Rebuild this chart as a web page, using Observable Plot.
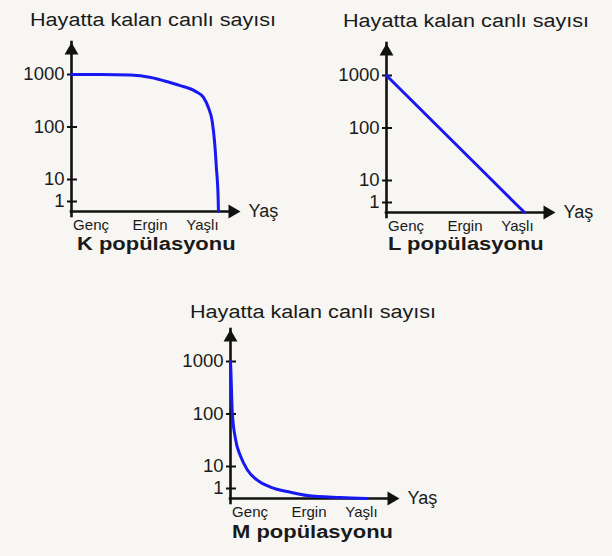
<!DOCTYPE html>
<html>
<head>
<meta charset="utf-8">
<script src="https://cdn.jsdelivr.net/npm/d3@7"></script>
<script src="https://cdn.jsdelivr.net/npm/@observablehq/plot@0.6"></script>
<style>
  html, body { margin: 0; padding: 0; }
  body { width: 612px; height: 556px; background: #f7f6f2; position: relative; overflow: hidden;
         font-family: "Liberation Sans", Arial, sans-serif; color: #1a1a1a; }
  .panel { position: absolute; }
  .txt { position: absolute; white-space: nowrap; font-size: 18px; line-height: 18px; transform-origin: 0 0; }
  .title { transform: scaleX(1.2); }
  .caption { font-weight: bold; transform: scaleX(1.22); }
</style>
</head>
<body>
<script>
// ---- data ----
const yAxisTitle = "Hayatta kalan canlı sayısı";
const xAxisTitle = "Yaş";
const ageLabels = ["Genç", "Ergin", "Yaşlı"];
const ageTickPos = [13.3, 53.4, 89.1];
const countTicks = [1, 10, 100, 1000];
const countLevels = [0, 1, 10, 100, 1000, 10000];  // 10000 = arrow tip of the y axis
const ageMax = 115;                                 // arrow tip of the x axis

const panelNames = ["K popülasyonu", "L popülasyonu", "M popülasyonu"];

const kAge   = [0, 20, 40, 54, 67, 74, 84.4, 89.8, 93.2, 95.7, 97.3, 98.6, 99.8, 100];
const kCount = [1000, 1000, 990, 948, 862, 810, 711, 607, 429, 204, 76, 30, 2, 0];

const lAge   = [0, 36, 72, 87, 94];
const lCount = [1000, 100, 10, 1, 0];

const mAge   = [0, 0.3, 1.2, 3.4, 6.8, 11.4, 18.2, 27.2, 40.8, 52.2, 74.8, 93];
const mCount = [1000, 813, 134, 57, 28, 8.7, 4.4, 1.6, 0.63, 0.3, 0.1, 0];

// ---- drawing ----
function panel(ages, counts, curve, name, pos) {
  const data = ages.map((a, i) => ({age: a, count: counts[i]}));
  const chart = Plot.plot({
    width: 250, height: 240,
    marginLeft: 60, marginRight: 21, marginTop: 31, marginBottom: 40,
    style: {background: "transparent", fontFamily: '"Liberation Sans", Arial, sans-serif', color: "#1a1a1a", overflow: "visible"},
    x: {type: "linear", domain: [0, ageMax], axis: null, label: null},
    y: {type: "linear", domain: countLevels, range: [200, 190, 168, 115.5, 63, 31], axis: null, label: null},
    marks: [
      Plot.axisX({ticks: ageTickPos, tickFormat: d => ageLabels[ageTickPos.indexOf(d)], label: null, tickSize: 0, tickPadding: 7.5, fontSize: 15, fill: "#1a1a1a"}),
      Plot.axisY({ticks: countTicks, tickFormat: d => String(d), label: null, tickSize: 10, dx: 6, tickPadding: 3, fontSize: 18.5, strokeWidth: 2, stroke: "#111", fill: "#1a1a1a"}),
      Plot.ruleY([0], {x1: 0, x2: ageMax, insetRight: 5, stroke: "#111", strokeWidth: 2.6, strokeLinecap: "square"}),
      Plot.ruleX([0], {y1: 0, y2: countLevels[countLevels.length - 1], insetTop: 5, stroke: "#111", strokeWidth: 2.6, strokeLinecap: "square"}),
      Plot.dot([0], {x: 0, y: countLevels[countLevels.length - 1], symbol: "triangle", r: 5.14, fill: "#111", stroke: null, dy: 8}),
      Plot.dot([0], {x: ageMax, y: 0, symbol: "triangle", rotate: 90, r: 5.14, fill: "#111", stroke: null, dx: -8}),
      Plot.line(data, {x: "age", y: "count", stroke: "#1818f2", strokeWidth: 3, curve}),
      Plot.text([xAxisTitle], {x: ageMax, y: 0, text: d => d, dx: 8, textAnchor: "start", fontSize: 18, fill: "#1a1a1a"})
    ]
  });
  const box = document.createElement("div");
  box.className = "panel";
  box.style.left = pos.left + "px";
  box.style.top = pos.top + "px";
  box.appendChild(chart);
  document.body.appendChild(box);

  const t = document.createElement("div");
  t.className = "txt title";
  t.textContent = yAxisTitle;
  t.style.left = pos.titleLeft + "px";
  t.style.top = pos.titleTop + "px";
  document.body.appendChild(t);

  const c = document.createElement("div");
  c.className = "txt caption";
  c.textContent = name;
  c.style.left = pos.capLeft + "px";
  c.style.top = pos.capTop + "px";
  document.body.appendChild(c);
}

panel(kAge, kCount, "monotone-x", panelNames[0], {left: 11, top: 11, titleLeft: 30, titleTop: 10.8, capLeft: 77, capTop: 235});
panel(lAge, lCount, "linear", panelNames[1], {left: 326, top: 12, titleLeft: 343, titleTop: 11.5, capLeft: 388, capTop: 235});
panel(mAge, mCount, "monotone-x", panelNames[2], {left: 170, top: 298, titleLeft: 190, titleTop: 302.8, capLeft: 232, capTop: 522.5});
</script>
</body>
</html>
